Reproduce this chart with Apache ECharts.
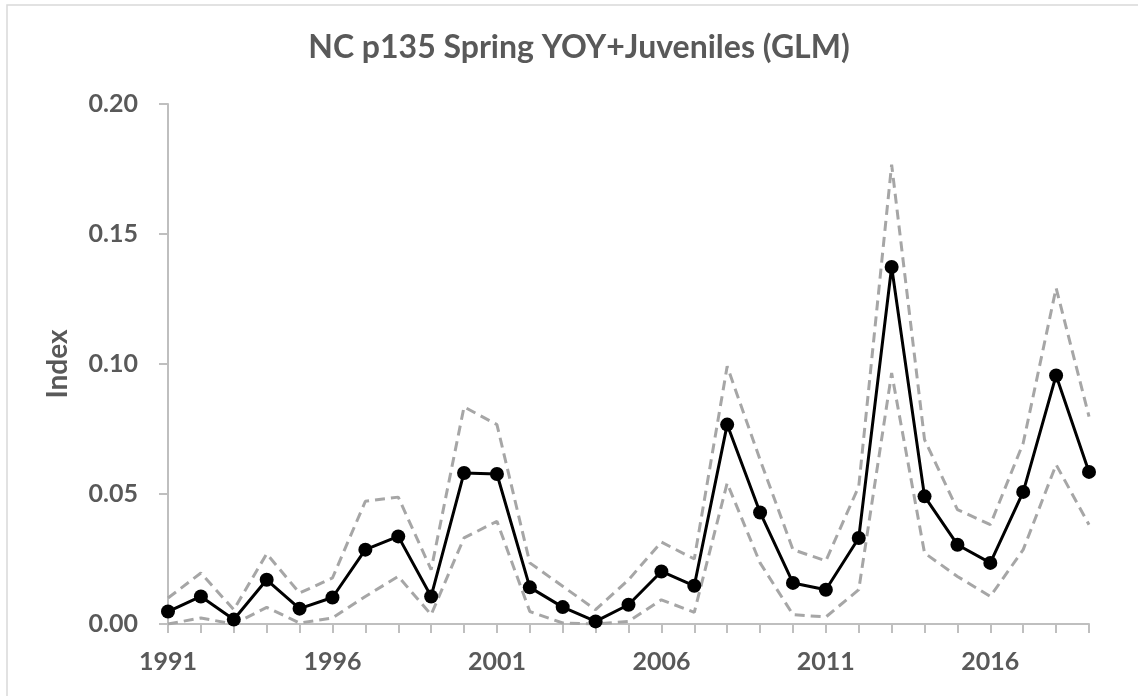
<!DOCTYPE html>
<html>
<head>
<meta charset="utf-8">
<script src="https://cdn.jsdelivr.net/npm/echarts@6/dist/echarts.min.js"></script>
<style>html,body{margin:0;padding:0;background:#fff}#c{width:1138px;height:696px}</style>
</head>
<body>
<div id="c"></div>
<script>
const years = ['1991','1992','1993','1994','1995','1996','1997','1998','1999','2000','2001','2002','2003','2004','2005','2006','2007','2008','2009','2010','2011','2012','2013','2014','2015','2016','2017','2018','2019'];
const indexValues = [0.0048,0.0106,0.0017,0.0170,0.0059,0.0102,0.0286,0.0337,0.0106,0.0581,0.0577,0.0141,0.0065,0.0010,0.0074,0.0202,0.0147,0.0767,0.0429,0.0158,0.0132,0.0331,0.1373,0.0491,0.0305,0.0235,0.0508,0.0956,0.0585];
const upperCI = [0.0100,0.0196,0.0055,0.0270,0.0119,0.0177,0.0472,0.0488,0.0209,0.0835,0.0767,0.0235,0.0145,0.0055,0.0170,0.0315,0.0250,0.0991,0.0632,0.0286,0.0243,0.0529,0.1767,0.0709,0.0440,0.0382,0.0696,0.1292,0.0798];
const lowerCI = [0.0000,0.0023,0.0000,0.0064,0.0004,0.0023,0.0106,0.0183,0.0036,0.0331,0.0395,0.0048,0.0004,0.0000,0.0010,0.0093,0.0045,0.0542,0.0235,0.0036,0.0027,0.0132,0.0965,0.0273,0.0183,0.0106,0.0286,0.0613,0.0382];
const yTicks = {min: 0, max: 0.2, interval: 0.05};
const titleText = 'NC p135 Spring YOY+Juveniles (GLM)';
const yName = 'Index';

const FONT = 'Lato';
const TXT = '#595959';
const chart = echarts.init(document.getElementById('c'), null, {renderer: 'canvas'});
const dashStyle = {color: '#a6a6a6', width: 3, type: [10, 6]};
chart.setOption({
  animation: false,
  backgroundColor: '#ffffff',
  graphic: [{
    type: 'rect', z: -10,
    shape: {x: 7, y: 5, width: 1300, height: 900},
    style: {fill: 'none', stroke: '#d9d9d9', lineWidth: 1.5}
  }, {
    type: 'text', x: 579, y: 48,
    style: {text: titleText, fontFamily: FONT, fontWeight: 'bold', fontSize: 32, fill: TXT,
      align: 'center', verticalAlign: 'middle'}
  }],
  grid: {left: 168, right: 49, top: 104, bottom: 72, containLabel: false},
  xAxis: {
    type: 'category', data: years, boundaryGap: false,
    axisLine: {lineStyle: {color: '#bfbfbf', width: 2}},
    axisTick: {show: true, interval: 0, length: 9, lineStyle: {color: '#bfbfbf', width: 2}},
    axisLabel: {interval: 4, margin: 25, fontFamily: FONT, fontWeight: 'bold', fontSize: 25, color: TXT},
    splitLine: {show: false}
  },
  yAxis: {
    type: 'value', min: yTicks.min, max: yTicks.max, interval: yTicks.interval,
    name: yName, nameLocation: 'middle', nameGap: 96, nameRotate: 90,
    nameTextStyle: {fontFamily: FONT, fontWeight: 'bold', fontSize: 28, color: TXT},
    axisLine: {show: true, lineStyle: {color: '#bfbfbf', width: 2}},
    axisTick: {show: true, length: 9, lineStyle: {color: '#bfbfbf', width: 2}},
    axisLabel: {margin: 30, fontFamily: FONT, fontWeight: 'bold', fontSize: 25, color: TXT,
      formatter: v => v.toFixed(2)},
    splitLine: {show: false}
  },
  series: [
    {type: 'line', data: upperCI, symbol: 'none', lineStyle: dashStyle, z: 2},
    {type: 'line', data: lowerCI, symbol: 'none', lineStyle: dashStyle, z: 2},
    {type: 'line', data: indexValues, symbol: 'circle', symbolSize: 14,
      itemStyle: {color: '#000'}, lineStyle: {color: '#000', width: 3}, z: 3}
  ]
});
</script>
</body>
</html>
